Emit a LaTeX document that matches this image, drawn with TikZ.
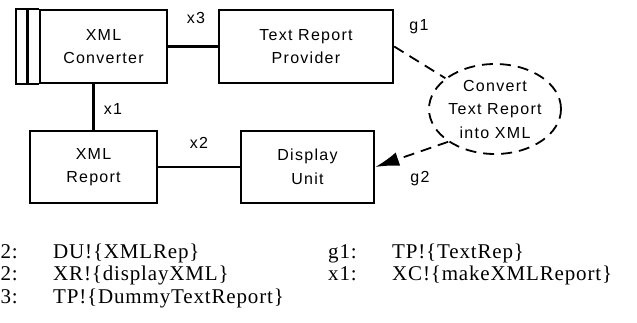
\documentclass[tikz,border=0pt]{standalone}
\usepackage{fontspec}
\newfontfamily\diagfont[LetterSpace=8]{Liberation Sans}
\newfontfamily\legendfont[LetterSpace=4]{Liberation Serif}
\usetikzlibrary{shapes.geometric,arrows.meta}
\tikzset{>={Latex[length=24pt,width=14pt]}}
\tikzset{unitbox/.style={draw,line width=2.4pt,inner sep=0pt,align=center},
  diag/.style={font=\diagfont\fontsize{16pt}{23.5pt}\selectfont},
  legend/.style={anchor=base west,inner sep=0pt,font=\legendfont\fontsize{21pt}{22pt}\selectfont},
  goal/.style={line width=1.8pt,dash pattern=on 11pt off 7pt}}

\begin{document}
\begin{tikzpicture}[x=1pt,y=-1pt,every node/.style={diag}]
\useasboundingbox (0,0) rectangle (637,322);
\node[unitbox,minimum width=127pt,minimum height=73pt] (XC) at (103.5,46.5) {XML\\Converter};
\node[unitbox,minimum width=174pt,minimum height=73pt] (TP) at (306,46.5) {Text Report\\Provider};
\node[unitbox,minimum width=127pt,minimum height=72pt] (XR) at (93.5,167) {XML\\Report};
\node[unitbox,minimum width=133pt,minimum height=72pt] (DU) at (307.5,167) {Display\\Unit};
\node[goal,draw,ellipse,inner sep=0pt,minimum width=132pt,minimum height=90pt,align=center] (C) at (495,109) {Convert\\Text Report\\into XML};
% stripes of the converter
\draw[line width=2.4pt] (XC.north west) -- ++(-23,0) -- ([xshift=-23pt]XC.south west) -- (XC.south west);
\draw[line width=2.4pt] ([xshift=-11.5pt]XC.north west) -- ([xshift=-11.5pt]XC.south west);
% connectors
\draw[line width=2.2pt] (XC) -- (TP);
\draw[line width=2.2pt] (XR.north) -- (XR.north |- XC.south);
\draw[line width=2.2pt] (XR) -- (DU);
\draw[goal] (TP.east) -- (C);
\draw[goal,->] (C.215) -- (DU.east);
\node (x3) at (196,18) {x3};
\node (x1) at (113,109) {x1};
\node (x2) at (199,143) {x2};
\node (g1) at (419,27) {g1};
\node (g2) at (420,179) {g2};
% legend
\node[legend] (l1) at (-11,258) {g2:};
\node[legend] (v1) at (53,258) {DU!\{XMLRep\}};
\node[legend] (l2) at (-11,280.5) {x2:};
\node[legend] (v2) at (53,280.5) {XR!\{displayXML\}};
\node[legend] (l3) at (-11,303) {x3:};
\node[legend] (v3) at (53,303) {TP!\{DummyTextReport\}};
\node[legend] (l4) at (328,258) {g1:};
\node[legend] (v4) at (392,258) {TP!\{TextRep\}};
\node[legend] (l5) at (328,280.5) {x1:};
\node[legend] (v5) at (392,280.5) {XC!\{makeXMLReport\}};
\end{tikzpicture}
\end{document}
